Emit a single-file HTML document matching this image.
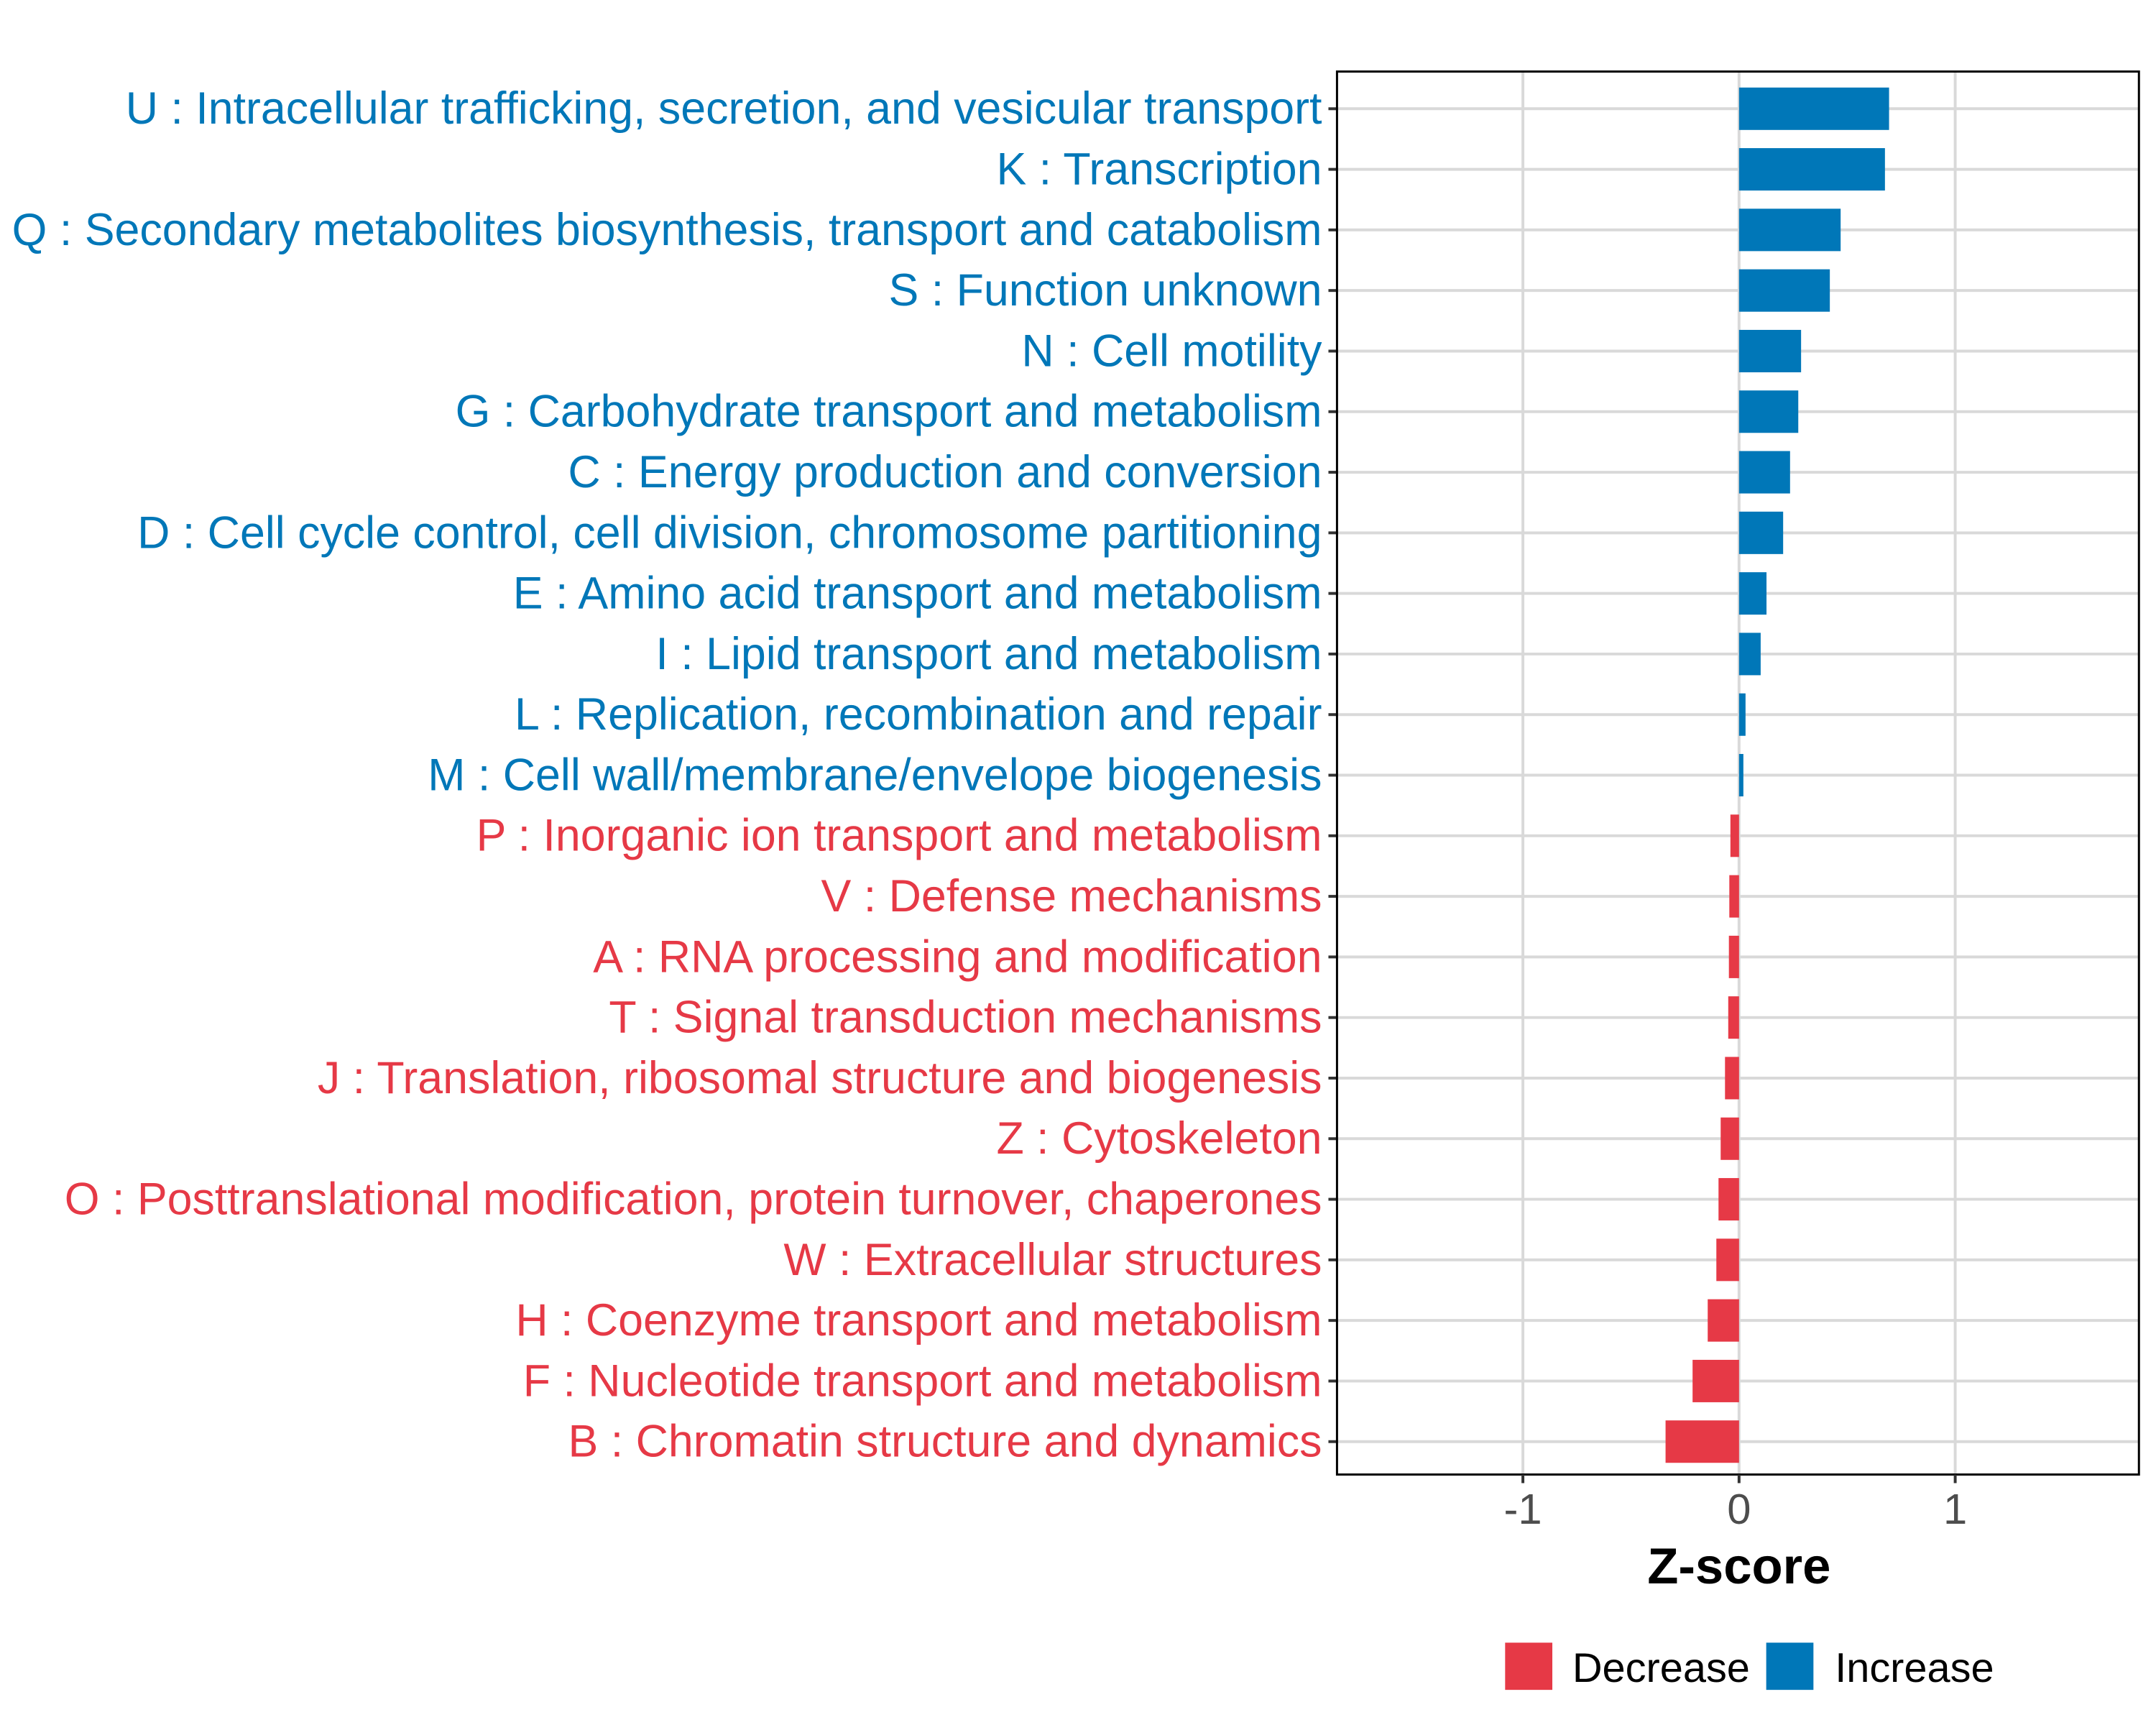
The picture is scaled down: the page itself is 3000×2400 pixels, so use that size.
<!DOCTYPE html>
<html><head><meta charset="utf-8"><style>body{margin:0;background:#fff}svg{display:block}</style></head>
<body>
<svg id="chart" width="3000" height="2400" viewBox="0 0 3000 2400" font-family="Liberation Sans, sans-serif"><g id="root" transform="scale(0.9954)"></g></svg>
<script>
const categories=["U : Intracellular trafficking, secretion, and vesicular transport","K : Transcription","Q : Secondary metabolites biosynthesis, transport and catabolism","S : Function unknown","N : Cell motility","G : Carbohydrate transport and metabolism","C : Energy production and conversion","D : Cell cycle control, cell division, chromosome partitioning","E : Amino acid transport and metabolism","I : Lipid transport and metabolism","L : Replication, recombination and repair","M : Cell wall/membrane/envelope biogenesis","P : Inorganic ion transport and metabolism","V : Defense mechanisms","A : RNA processing and modification","T : Signal transduction mechanisms","J : Translation, ribosomal structure and biogenesis","Z : Cytoskeleton","O : Posttranslational modification, protein turnover, chaperones","W : Extracellular structures","H : Coenzyme transport and metabolism","F : Nucleotide transport and metabolism","B : Chromatin structure and dynamics"];
const zscores=[0.694,0.675,0.47,0.42,0.287,0.274,0.236,0.204,0.127,0.10,0.03,0.02,-0.04,-0.045,-0.047,-0.05,-0.065,-0.085,-0.095,-0.105,-0.145,-0.215,-0.34];
const xTicks=[-1,0,1];
const xTickLabels=["-1","0","1"];
const legendLabels=["Decrease","Increase"];

const NS="http://www.w3.org/2000/svg";
const svg=document.getElementById('root');
const P={l:1869,r:2990,t:100,b:2061};
const xmin=-1.86,xmax=1.85;
const x=v=>P.l+(v-xmin)/(xmax-xmin)*(P.r-P.l);
const rowTop=152,rowStep=(2015-152)/22;
const y=i=>rowTop+i*rowStep;
const RED="#e63946",BLUE="#0077b8";
function el(tag,attrs,parent){const e=document.createElementNS(NS,tag);for(const k in attrs)e.setAttribute(k,attrs[k]);(parent||svg).appendChild(e);return e;}

const grid=el('g',{});


xTicks.forEach(t=>{const l=el('line',{x1:x(t),x2:x(t),y1:P.t,y2:P.b,stroke:'#d9d9d9','stroke-width':4},grid);

});
categories.forEach((c,i)=>{const l=el('line',{x1:P.l,x2:P.r,y1:y(i),y2:y(i),stroke:'#d9d9d9','stroke-width':4},grid);

});

const bars=el('g',{});


const bh=rowStep*0.7;
zscores.forEach((v,i)=>{const x0=x(Math.min(0,v)),x1=x(Math.max(0,v));
const r=el('rect',{x:x0,y:y(i)-bh/2,width:Math.max(1,x1-x0),height:bh,fill:v>=0?BLUE:RED},bars);

});

const ylabels=el('g',{});


categories.forEach((c,i)=>{const t=el('text',{x:1848,y:y(i)+21,'text-anchor':'end','font-size':63,fill:zscores[i]>=0?BLUE:RED},ylabels);t.textContent=c;


const tk=el('line',{x1:1857,x2:P.l,y1:y(i),y2:y(i),stroke:'#333','stroke-width':4},ylabels);

});

const frame=el('rect',{x:P.l,y:P.t,width:P.r-P.l,height:P.b-P.t,fill:'none',stroke:'#000','stroke-width':3});



const xax=el('g',{});


xTicks.forEach((t,i)=>{const tk=el('line',{x1:x(t),x2:x(t),y1:P.b,y2:P.b+12,stroke:'#333','stroke-width':4},xax);


const tl=el('text',{x:x(t),y:2130,'text-anchor':'middle','font-size':60,fill:'#4d4d4d'},xax);tl.textContent=xTickLabels[i];

});
const xt=el('text',{x:x(0),y:2213,'text-anchor':'middle','font-size':71,'font-weight':'bold',fill:'#000'});xt.textContent='Z-score';



const leg=el('g',{});


[[2104,2198,RED],[2469,2565,BLUE]].forEach((p,i)=>{const r=el('rect',{x:p[0],y:2296,width:66,height:66,fill:p[2]},leg);


const t=el('text',{x:p[1],y:2351,'font-size':58,fill:'#000'},leg);t.textContent=legendLabels[i];

});
</script>
</body></html>
